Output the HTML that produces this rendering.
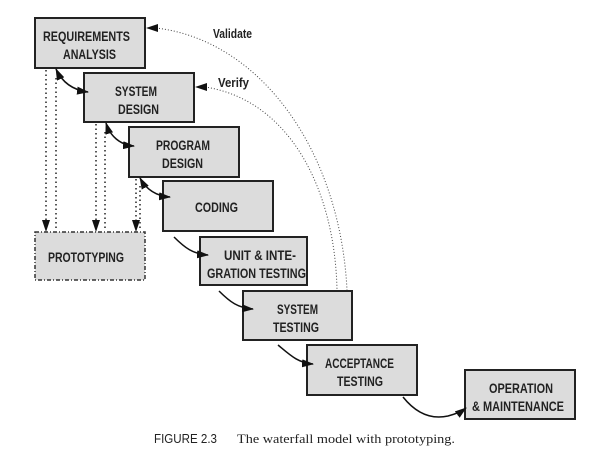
<!DOCTYPE html>
<html><head><meta charset="utf-8"><style>
html,body{margin:0;padding:0;background:#fff;}
svg{display:block;}
.b{fill:#dcdcdc;stroke:#222;stroke-width:2;}
.t{font-family:"Liberation Sans",sans-serif;font-weight:bold;font-size:13.5px;fill:#222;}
.l{font-family:"Liberation Sans",sans-serif;font-weight:bold;font-size:12.5px;fill:#222;}
.s{fill:none;stroke:#111;stroke-width:1.5;}
.d{fill:none;stroke:#222;stroke-width:1.5;stroke-dasharray:1.5 3;}
.dd{fill:none;stroke:#444;stroke-width:1;stroke-dasharray:1 2;}
</style></head><body>
<svg width="615" height="457" viewBox="0 0 615 457" xmlns="http://www.w3.org/2000/svg">
<defs>
<marker id="a" markerWidth="12" markerHeight="8" refX="11" refY="4" orient="auto" markerUnits="userSpaceOnUse"><path d="M0,0 L12,4 L0,8 Z" fill="#111"/></marker>
<marker id="as" markerWidth="12" markerHeight="8" refX="11" refY="4" orient="auto-start-reverse" markerUnits="userSpaceOnUse"><path d="M0,0 L12,4 L0,8 Z" fill="#111"/></marker>
</defs>

<path class="dd" d="M156,28 C260,40 340,150 347,290"/>
<path class="dd" d="M205,87 C290,100 335,190 337,290"/>
<path d="M146,28 L158,24 L158,32 Z" fill="#111"/>
<path d="M195,87 L207,83 L207,91 Z" fill="#111"/>

<path class="d" d="M46,70 L46,222"/>
<path d="M42,220 L46,232 L50,220 Z" fill="#111"/>
<path class="d" d="M56,78 L56,231"/>
<path class="d" d="M96,124 L96,222"/>
<path d="M92,220 L96,232 L100,220 Z" fill="#111"/>
<path class="d" d="M105,132 L105,231"/>
<path class="d" d="M136,179 L136,222"/>
<path d="M132,220 L136,232 L140,220 Z" fill="#111"/>
<path class="d" d="M140,186 L140,231"/>

<rect class="b" x="35" y="18" width="110" height="50"/>
<rect class="b" x="84" y="73" width="110" height="49"/>
<rect class="b" x="129" y="127" width="110" height="50"/>
<rect class="b" x="163" y="181" width="110" height="50"/>
<rect class="b" x="200" y="237" width="107" height="48"/>
<rect class="b" x="243" y="291" width="109" height="49"/>
<rect class="b" x="307" y="345" width="110" height="50"/>
<rect class="b" x="465" y="370" width="110" height="49"/>
<rect x="35" y="232" width="110" height="48" fill="#dcdcdc" stroke="#333" stroke-width="1.5" stroke-dasharray="4 2 1 2"/>

<path class="s" d="M56,69 C62,82 72,90 88,92" marker-start="url(#as)" marker-end="url(#a)"/>
<path class="s" d="M106,123 C110,136 120,145 134,146" marker-start="url(#as)" marker-end="url(#a)"/>
<path class="s" d="M140,178 C146,189 155,196 170,197" marker-start="url(#as)" marker-end="url(#a)"/>
<path class="s" d="M174,237 C185,248 193,254 208,255" marker-end="url(#a)"/>
<path class="s" d="M219,291 C230,302 238,308 253,309" marker-end="url(#a)"/>
<path class="s" d="M278,345 C290,355 298,363 313,364" marker-end="url(#a)"/>
<path class="s" d="M403,397 C415,412 430,420 448,416 C456,414 462,411 466,408" marker-end="url(#a)"/>

<text class="l" x="213" y="38" textLength="39" lengthAdjust="spacingAndGlyphs">Validate</text>
<text class="l" x="218" y="87" textLength="31" lengthAdjust="spacingAndGlyphs">Verify</text>

<text class="t" x="43" y="41" textLength="87" lengthAdjust="spacingAndGlyphs">REQUIREMENTS</text>
<text class="t" x="63" y="59" textLength="53" lengthAdjust="spacingAndGlyphs">ANALYSIS</text>
<text class="t" x="115" y="96" textLength="42" lengthAdjust="spacingAndGlyphs">SYSTEM</text>
<text class="t" x="118" y="114" textLength="41" lengthAdjust="spacingAndGlyphs">DESIGN</text>
<text class="t" x="156" y="150" textLength="54" lengthAdjust="spacingAndGlyphs">PROGRAM</text>
<text class="t" x="162" y="168" textLength="41" lengthAdjust="spacingAndGlyphs">DESIGN</text>
<text class="t" x="195" y="212" textLength="43" lengthAdjust="spacingAndGlyphs">CODING</text>
<text class="t" x="224" y="260" textLength="72" lengthAdjust="spacingAndGlyphs">UNIT &amp; INTE-</text>
<text class="t" x="207" y="278" textLength="99" lengthAdjust="spacingAndGlyphs">GRATION TESTING</text>
<text class="t" x="277" y="314" textLength="41" lengthAdjust="spacingAndGlyphs">SYSTEM</text>
<text class="t" x="273" y="332" textLength="46" lengthAdjust="spacingAndGlyphs">TESTING</text>
<text class="t" x="325" y="368" textLength="69" lengthAdjust="spacingAndGlyphs">ACCEPTANCE</text>
<text class="t" x="337" y="386" textLength="46" lengthAdjust="spacingAndGlyphs">TESTING</text>
<text class="t" x="489" y="393" textLength="64" lengthAdjust="spacingAndGlyphs">OPERATION</text>
<text class="t" x="472" y="411" textLength="92" lengthAdjust="spacingAndGlyphs">&amp; MAINTENANCE</text>
<text class="t" x="48" y="262" textLength="76" lengthAdjust="spacingAndGlyphs">PROTOTYPING</text>

<text x="154" y="443" font-family="Liberation Sans, sans-serif" font-size="12.5" fill="#222" textLength="63" lengthAdjust="spacingAndGlyphs">FIGURE 2.3</text>
<text x="237" y="443" font-family="Liberation Serif, serif" font-size="13" fill="#222" textLength="218" lengthAdjust="spacingAndGlyphs">The waterfall model with prototyping.</text>
</svg>
</body></html>
